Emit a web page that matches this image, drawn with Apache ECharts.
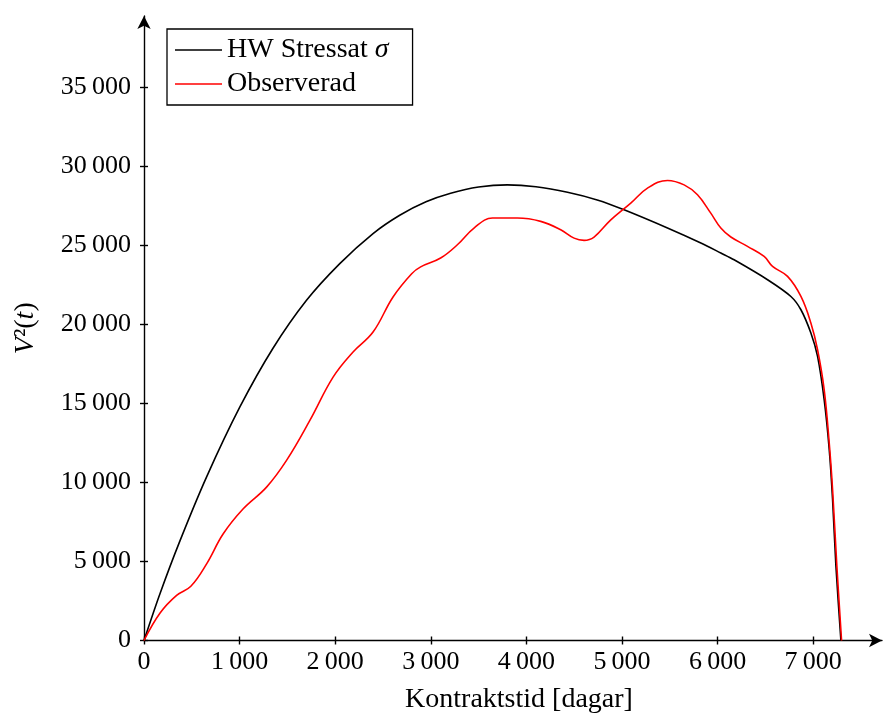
<!DOCTYPE html>
<html>
<head>
<meta charset="utf-8">
<script src="https://cdn.jsdelivr.net/npm/echarts@6/dist/echarts.min.js"></script>
<style>html,body{margin:0;padding:0;background:#fff}#c{width:889px;height:720px}</style>
</head>
<body>
<div id="c"></div>
<script>
// Data
const hwX = [0, 167, 376, 655, 1003, 1351, 1700, 2048, 2396, 2675, 2950, 3208, 3500, 3801, 4100, 4430, 4750, 5022, 5476, 5825, 6034, 6173, 6523, 6767, 6872, 6976, 7046, 7115, 7168, 7203, 7238, 7290];
const hwY = [0, 2960, 6300, 10350, 14770, 18500, 21520, 23840, 25740, 26900, 27750, 28290, 28680, 28820, 28700, 28350, 27850, 27240, 26090, 25140, 24510, 24080, 22820, 21760, 20920, 19450, 17970, 15230, 12070, 8910, 4700, 0];

const obsX = [0, 170, 341, 490, 655, 829, 1038, 1282, 1491, 1735, 1978, 2187, 2396, 2605, 2800, 2894, 3103, 3278, 3452, 3645, 3906, 4150, 4359, 4499, 4603, 4708, 4883, 5092, 5267, 5476, 5650, 5790, 5929, 6034, 6139, 6313, 6487, 6575, 6732, 6872, 6976, 7046, 7115, 7168, 7203, 7248, 7297];
const obsY = [0, 1750, 2850, 3430, 4850, 6750, 8330, 9700, 11390, 13920, 16660, 18250, 19510, 21730, 23200, 23630, 24190, 25030, 26090, 26720, 26720, 26510, 25980, 25450, 25310, 25520, 26610, 27670, 28610, 29100, 28820, 28190, 27030, 26090, 25520, 24930, 24290, 23660, 23030, 21760, 20080, 18390, 15870, 12490, 9550, 4700, 0];

const seriesNames = ['HW Stressat σ', 'Observerad'];
const xTicks = [0, 1000, 2000, 3000, 4000, 5000, 6000, 7000];
const yTicks = [0, 5000, 10000, 15000, 20000, 25000, 30000, 35000];
const xName = 'Kontraktstid [dagar]';

const FONT = 'Liberation Serif';
function fmt(v) {
  const s = String(Math.round(v));
  if (s.length <= 3) return s;
  return s.slice(0, s.length - 3) + '\u2009' + s.slice(s.length - 3);
}
function zip(xs, ys) { return xs.map((x, i) => [x, ys[i]]); }

const XMAX = 7720, YMAX = 39500;
const axisCol = '#000';

const chart = echarts.init(document.getElementById('c'), null, {renderer: 'canvas'});
chart.setOption({
  animation: false,
  backgroundColor: '#fff',
  grid: {left: 144, right: 7, top: 16, bottom: 79.5, containLabel: false},
  legend: {
    orient: 'vertical', left: 167, top: 29,
    padding: [7, 24, 7, 8],
    icon: 'rect',
    itemWidth: 47, itemHeight: 1.6, itemGap: 6,
    borderColor: '#000', borderWidth: 1.3,
    backgroundColor: '#fff',
    data: seriesNames,
    formatter: function (n) {
      if (n === seriesNames[0]) return '{r|HW Stressat }{i|σ}';
      return '{r|' + n + '}';
    },
    textStyle: {
      fontFamily: FONT, fontSize: 28, color: '#000', lineHeight: 28,
      rich: {
        r: {fontFamily: FONT, fontSize: 28, color: '#000', lineHeight: 28},
        i: {fontFamily: FONT, fontSize: 28, fontStyle: 'italic', color: '#000', lineHeight: 28}
      }
    }
  },
  xAxis: [{
    type: 'value', min: 0, max: XMAX, interval: 1000,
    position: 'bottom',
    name: xName, nameLocation: 'middle', nameGap: 45,
    nameTextStyle: {fontFamily: FONT, fontSize: 28, color: '#000', padding: [0, 0, 0, 12]},
    axisLine: {show: true, onZero: false, lineStyle: {color: axisCol, width: 1.4},
      symbol: ['none', 'arrow'], symbolSize: [10, 13]},
    axisTick: {show: true, inside: false, length: 4, lineStyle: {color: axisCol, width: 1.4}, customValues: xTicks},
    axisLabel: {fontFamily: FONT, fontSize: 26, color: '#000', margin: 9, formatter: fmt, customValues: xTicks},
    splitLine: {show: false}
  }, {
    type: 'value', min: 0, max: XMAX, position: 'bottom', offset: 0,
    axisLine: {show: false},
    axisTick: {show: true, inside: true, length: 4, lineStyle: {color: axisCol, width: 1.4}, customValues: xTicks},
    axisLabel: {show: false},
    splitLine: {show: false}
  }],
  yAxis: [{
    type: 'value', min: 0, max: YMAX, interval: 5000,
    position: 'left',
    name: '{i|V}{n|²(}{i|t}{n|)}', nameLocation: 'middle', nameGap: 104, nameRotate: 90,
    nameTextStyle: {
      fontFamily: FONT, fontSize: 28, color: '#000',
      rich: {
        i: {fontFamily: FONT, fontSize: 28, fontStyle: 'italic', color: '#000'},
        n: {fontFamily: FONT, fontSize: 28, color: '#000'}
      }
    },
    axisLine: {show: true, onZero: false, lineStyle: {color: axisCol, width: 1.4},
      symbol: ['none', 'arrow'], symbolSize: [10, 13]},
    axisTick: {show: true, inside: false, length: 4, lineStyle: {color: axisCol, width: 1.4}, customValues: yTicks},
    axisLabel: {fontFamily: FONT, fontSize: 26, color: '#000', margin: 13, formatter: fmt, customValues: yTicks},
    splitLine: {show: false}
  }, {
    type: 'value', min: 0, max: YMAX, position: 'left', offset: 0,
    axisLine: {show: false},
    axisTick: {show: true, inside: true, length: 4, lineStyle: {color: axisCol, width: 1.4}, customValues: yTicks},
    axisLabel: {show: false},
    splitLine: {show: false}
  }],
  series: [{
    name: seriesNames[0], type: 'line', xAxisIndex: 0, yAxisIndex: 0,
    data: zip(hwX, hwY), symbol: 'none', smooth: 0.3,
    lineStyle: {color: '#000', width: 1.6}, itemStyle: {color: '#000'}, z: 3
  }, {
    name: seriesNames[1], type: 'line', xAxisIndex: 0, yAxisIndex: 0,
    data: zip(obsX, obsY), symbol: 'none', smooth: 0.4,
    lineStyle: {color: '#ff0000', width: 1.6}, itemStyle: {color: '#ff0000'}, z: 4
  }]
});
</script>
</body>
</html>
